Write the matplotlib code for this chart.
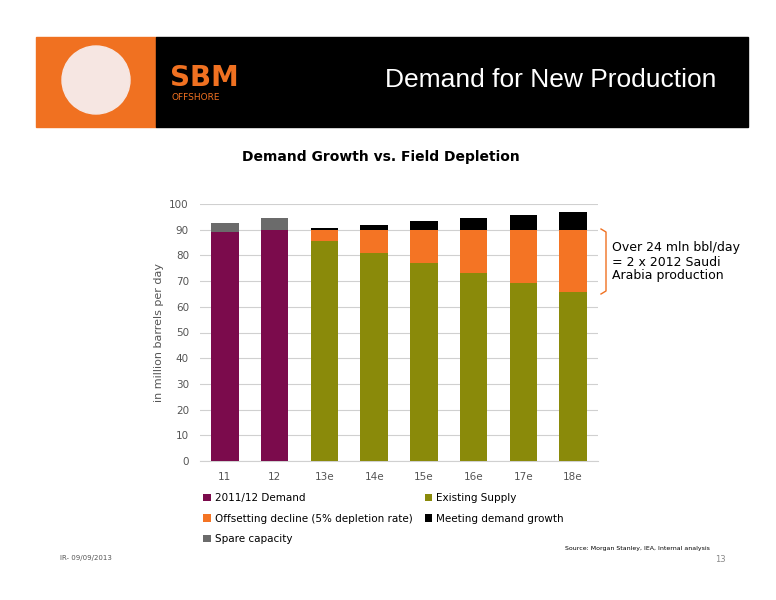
import matplotlib
matplotlib.use("Agg")
import matplotlib.pyplot as plt
from matplotlib.patches import Rectangle, Ellipse

categories = ["11", "12", "13e", "14e", "15e", "16e", "17e", "18e"]
demand = [89.0, 90.0, 0, 0, 0, 0, 0, 0]
existing = [0, 0, 85.5, 81.0, 77.0, 73.0, 69.3, 65.7]
offsetting = [0, 0, 4.5, 9.0, 13.0, 17.0, 20.7, 24.3]
growth = [0, 0, 0.8, 2.0, 3.3, 4.6, 5.8, 7.0]
spare = [3.8, 4.7, 0, 0, 0, 0, 0, 0]

fig = plt.figure(figsize=(7.76, 6), dpi=100)
fig.patch.set_facecolor("white")

# header
fig.patches.append(Rectangle((36/776, 1-127/600), 120/776, 90/600, transform=fig.transFigure, color="#F07121", zorder=0))
fig.patches.append(Rectangle((156/776, 1-127/600), 592/776, 90/600, transform=fig.transFigure, color="black", zorder=0))
fig.patches.append(Ellipse((96/776, 1-80/600), 68/776, 68/600, transform=fig.transFigure, color="#f6e6e2", zorder=1))
fig.text(170/776, 1-78/600, "SBM", color="#F07121", fontsize=20, fontweight="bold", va="center", ha="left")
fig.text(171/776, 1-97/600, "OFFSHORE", color="#F07121", fontsize=6.5, va="center", ha="left")
fig.text(716/776, 1-80/600, "Demand for New Production", color="white", fontsize=19, va="center", ha="right",
         family="Liberation Sans")
fig.text(381/776, 1-157/600, "Demand Growth vs. Field Depletion", fontsize=10, fontweight="bold", ha="center", va="center")

ax = fig.add_axes([200/776, 139/600, 398/776, 257/600])
x = range(len(categories))
w = 0.55
hd = ax.bar(x, demand, w, color="#7B0B4C", label="2011/12 Demand", zorder=3)
he = ax.bar(x, existing, w, color="#8A8A0A", label="Existing Supply", zorder=3)
ho = ax.bar(x, offsetting, w, bottom=existing, color="#F47424", label="Offsetting decline (5% depletion rate)", zorder=3)
b2 = [e + o for e, o in zip(existing, offsetting)]
hg = ax.bar(x, growth, w, bottom=b2, color="black", label="Meeting demand growth", zorder=3)
hs = ax.bar(x, spare, w, bottom=demand, color="#6B6B6B", label="Spare capacity", zorder=3)

ax.set_ylim(0, 100)
ax.set_xlim(-0.5, 7.5)
ax.set_yticks(range(0, 101, 10))
ax.set_xticks(list(x))
ax.set_xticklabels(categories)
ax.grid(axis="y", color="#d0d0d0", linewidth=0.8, zorder=0)
for s in ["top", "right", "left"]:
    ax.spines[s].set_visible(False)
ax.spines["bottom"].set_color("#d0d0d0")
ax.tick_params(length=0, labelsize=7.5, colors="#555555", pad=8)
ax.set_ylabel("in million barrels per day", fontsize=8, color="#555555")

hl = [hd, ho, hs, he, hg]
fig.legend(hl, [h.get_label() for h in hl], ncol=2, loc="upper left",
           bbox_to_anchor=(198/776, 1-488/600), frameon=False, fontsize=7.5,
           handlelength=0.7, handleheight=0.7, handletextpad=0.4, columnspacing=1.2, labelspacing=1.0,
           borderpad=0)

fig.lines.append(plt.Line2D([601/776, 606/776, 606/776, 601/776], [1-229/600, 1-232/600, 1-291/600, 1-294/600],
                            transform=fig.transFigure, color="#F07121", lw=1))
fig.text(612/776, 1-262/600, "Over 24 mln bbl/day\n= 2 x 2012 Saudi\nArabia production", fontsize=9, va="center", ha="left", linespacing=1.1)

fig.text(710/776, 1-550/600, "Source: Morgan Stanley, IEA, Internal analysis", fontsize=4.5, ha="right")
fig.text(60/776, 1-560/600, "IR- 09/09/2013", fontsize=5, ha="left", color="#555555")
fig.text(726/776, 1-562/600, "13", fontsize=6, ha="right", color="#888888")

fig.savefig("out.png", dpi=100)
